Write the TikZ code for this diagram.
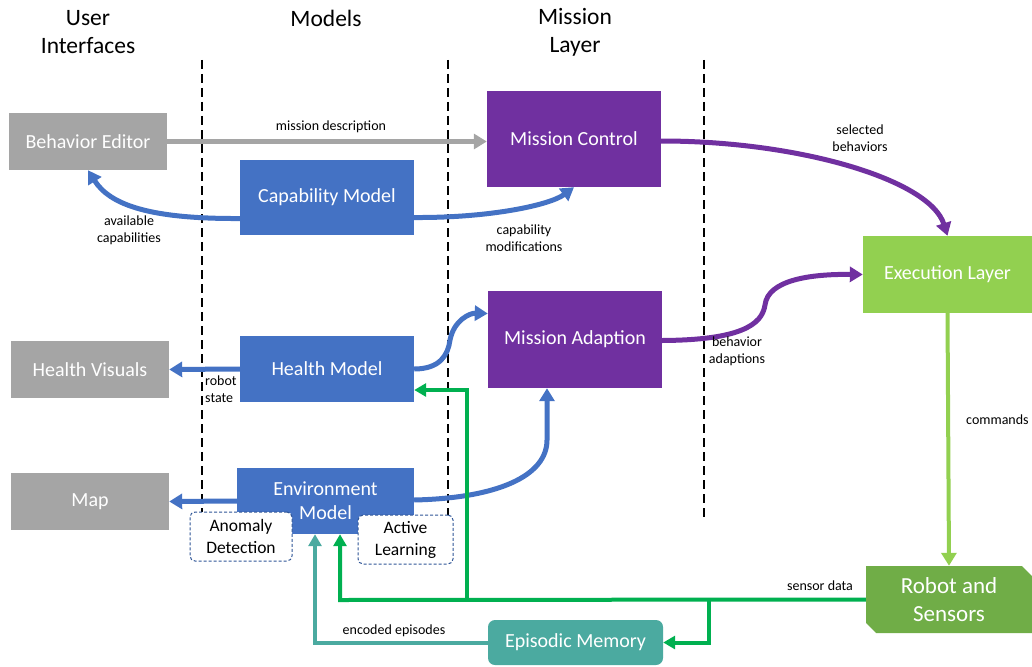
\documentclass[tikz,border=0pt]{standalone}
\usepackage{fontspec}
\setmainfont{Carlito}
\usetikzlibrary{arrows.meta,shapes.misc}
\definecolor{cgray}{HTML}{A5A5A5}
\definecolor{cblue}{HTML}{4472C4}
\definecolor{cpurple}{HTML}{7030A0}
\definecolor{cexec}{HTML}{92D050}
\definecolor{crobot}{HTML}{70AD47}
\definecolor{cgreen}{HTML}{00B050}
\definecolor{cteal}{HTML}{4BAAA0}
\definecolor{cdash}{HTML}{2F5597}
\tikzset{
  box/.style={draw=none, text=white, align=center, font=\fontsize{20}{24}\selectfont, inner sep=0pt},
  graybox/.style={box, fill=cgray},
  bluebox/.style={box, fill=cblue},
  purplebox/.style={box, fill=cpurple},
  subbox/.style={draw=cdash, dash pattern=on 3pt off 2pt, rounded corners=5pt, fill=white, text=black, align=center, font=\fontsize{17.5}{22}\selectfont, line width=1pt, inner sep=0pt},
  header/.style={align=center, font=\fontsize{23.5}{28}\selectfont},
  lbl/.style={font=\fontsize{14}{17}\selectfont, align=center, inner sep=0pt},
  divider/.style={dash pattern=on 9pt off 5pt, line width=1.4pt},
  tip/.style={-{Triangle[length=13pt,width=15pt]}},
  smalltip/.style={-{Triangle[length=12pt,width=13pt]}},
  bluearrow/.style={tip, cblue, line width=5pt},
  purplearrow/.style={tip, cpurple, line width=5pt},
  grayarrow/.style={tip, cgray, line width=5pt},
  greenarrow/.style={smalltip, cgreen, line width=4pt},
  tealarrow/.style={smalltip, cteal, line width=4pt},
}
\begin{document}
\begin{tikzpicture}[x=1pt,y=-1pt]
\useasboundingbox (0,0) rectangle (1032,666);

% headers
\node[header] (hUI) at (88,32) {User\\Interfaces};
\node[header] (hM) at (326,18) {Models};
\node[header] (hML) at (575,32) {Mission\\Layer};

% dividers
\draw[divider] (202,60) -- (202,512);
\draw[divider] (448,60) -- (448,515);
\draw[divider] (704,60) -- (704,518);

% nodes
\node[graybox, minimum width=158pt, minimum height=57pt] (BE) at (88,141.5) {Behavior Editor};
\node[bluebox, minimum width=174pt, minimum height=75pt] (CM) at (327,197.5) {Capability Model};
\node[purplebox, minimum width=174pt, minimum height=96pt] (MC) at (574,139) {Mission Control};
\node[box, fill=cexec, minimum width=169pt, minimum height=77pt] (EL) at (947.5,274.5) {Execution Layer};
\node[purplebox, minimum width=174pt, minimum height=97pt] (MA) at (575,339.5) {Mission Adaption};
\node[graybox, minimum width=158pt, minimum height=57pt] (HV) at (90,369.5) {Health Visuals};
\node[bluebox, minimum width=174pt, minimum height=66pt] (HM) at (327,369) {Health Model};
\node[graybox, minimum width=158pt, minimum height=57pt] (MAP) at (90,501.5) {Map};
\node[bluebox, minimum width=177pt, minimum height=66pt] (EM) at (325.5,501) {Environment\\Model};
\node[subbox, minimum width=102pt, minimum height=49pt] (AD) at (241,536.5) {Anomaly\\Detection};
\node[subbox, minimum width=95pt, minimum height=49pt] (AL) at (405.5,539.5) {Active\\Learning};
\node[box, fill=crobot, chamfered rectangle, chamfered rectangle corners={north east,south west},
      chamfered rectangle xsep=7pt, chamfered rectangle angle=45,
      minimum width=166pt, minimum height=67pt, font=\fontsize{23}{28}\selectfont] (RS) at (949,599.5) {Robot and\\Sensors};
\node[box, fill=cteal, rounded corners=7pt, minimum width=175pt, minimum height=45pt] (EP) at (575.5,642.5) {Episodic Memory};

% connectors
\draw[grayarrow] (BE.east) -- (MC.west |- BE.east);
\node[lbl] (lMD) at (331,127) {mission description};

\coordinate (acS) at ([yshift=-21pt]CM.west);
\draw[bluearrow] (acS) .. controls (150,219) and (110,205) .. (BE.south);
\node[lbl] (lAC) at (129,230) {available\\capabilities};

\coordinate (cmS) at ([yshift=-20pt]CM.east);
\draw[bluearrow] (cmS) .. controls (490,218) and (550,205) .. (MC.south);
\node[lbl] (lCMd) at (524,238) {capability\\modifications};

\coordinate (mcS) at ([yshift=-2pt]MC.east);
\draw[purplearrow] (mcS) .. controls (800,141) and (930,180) .. (EL.north);
\node[lbl] (lSB) at (860,138) {selected\\behaviors};

\coordinate (maS) at ([yshift=-1pt]MA.east);
\coordinate (maM) at (765,305);
\draw[purplearrow] (maS) .. controls (740,340) and (762,325) .. (maM) .. controls (768,280) and (810,274) .. (EL.west);
\node[lbl] (lBA) at (737,351) {behavior\\adaptions};

\draw[bluearrow] (HM.west) -- (HV.east);
\node[lbl, anchor=west, align=left, font=\fontsize{14}{17}\selectfont] (lRS) at (205,389) {robot\\state};

\coordinate (hmM) at (450,340);
\coordinate (maT) at ([yshift=26pt]MA.west);
\draw[bluearrow] (HM.east) .. controls (440,369) and (448,355) .. (hmM) .. controls (454,320) and (470,313) .. (maT);

\draw[bluearrow] (EM.west) -- (MAP.east);

\coordinate (emS) at ([yshift=1pt]EM.east);
\coordinate (emM) at (547,440);
\coordinate (maB) at ([xshift=-28pt]MA.south);
\draw[bluearrow] (emS) .. controls (500,498) and (547,475) .. (emM) -- (maB);

\draw[tip, cexec, line width=4pt] (EL.south) -- (RS.north);
\node[lbl, anchor=west] (lCmd) at (966,420) {commands};

\coordinate (g1) at (340,600);
\coordinate (g2) at (467,600);
\coordinate (g3) at (709,600);
\coordinate (emG) at ([xshift=14.5pt]EM.south);
\coordinate (hmG) at ([yshift=-21pt]HM.east);
\draw[greenarrow] (RS.west) -- (g1) -- (emG);
\draw[greenarrow] (g2) -- (g2 |- hmG) -- (hmG);
\draw[greenarrow] (g3) -- (g3 |- EP.east) -- (EP.east);
\node[lbl] (lSD) at (820,586) {sensor data};

\coordinate (emT) at ([xshift=-10.5pt]EM.south);
\draw[tealarrow] (EP.west) -- (emT |- EP.west) -- (emT);
\node[lbl] (lEE) at (394,631) {encoded episodes};
\end{tikzpicture}
\end{document}
